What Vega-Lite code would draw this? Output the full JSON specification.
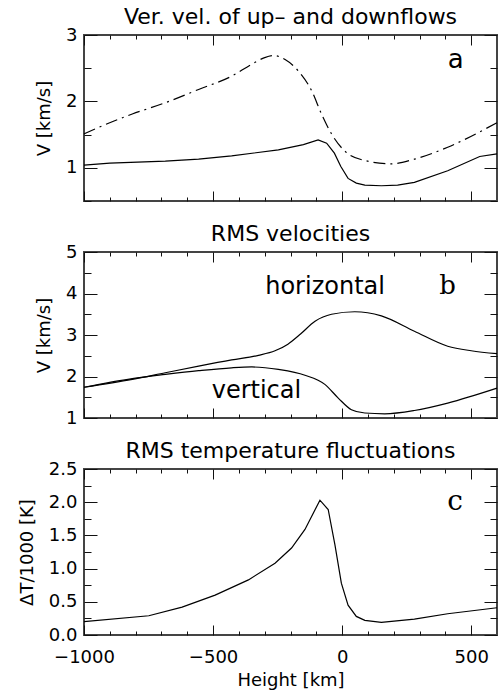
{
  "$schema": "https://vega.github.io/schema/vega-lite/v6.json",
  "padding": {"left": 17, "top": 5, "right": 0, "bottom": 0},
  "spacing": 51,
  "bounds": "flush",
  "config": {
    "font": "DejaVu Sans",
    "view": {"stroke": "#444", "strokeWidth": 2},
    "axis": {"labelFont": "DejaVu Sans", "labelFontSize": 18, "labelColor": "#000", "labelOverlap": false, "titleFont": "DejaVu Sans", "titleFontSize": 18, "titleFontWeight": "normal", "titleColor": "#000", "tickColor": "#111", "tickWidth": 1, "domain": false, "grid": false},
    "title": {"font": "DejaVu Sans", "fontSize": 22, "fontWeight": "normal", "color": "#000", "offset": -3}
  },
  "vconcat": [
    {
      "title": "Ver. vel. of up– and downflows",
      "width": 413, "height": 166,
      "data": {"values": [
        {"h": -1000, "v": 1.04, "s": "solid"}, {"h": -900, "v": 1.07, "s": "solid"}, {"h": -685, "v": 1.10, "s": "solid"}, {"h": -556, "v": 1.13, "s": "solid"}, {"h": -428, "v": 1.18, "s": "solid"}, {"h": -247, "v": 1.27, "s": "solid"}, {"h": -150, "v": 1.35, "s": "solid"}, {"h": -93, "v": 1.42, "s": "solid"}, {"h": -60, "v": 1.37, "s": "solid"}, {"h": -30, "v": 1.22, "s": "solid"}, {"h": -5, "v": 1.02, "s": "solid"}, {"h": 23, "v": 0.84, "s": "solid"}, {"h": 55, "v": 0.77, "s": "solid"}, {"h": 88, "v": 0.74, "s": "solid"}, {"h": 152, "v": 0.73, "s": "solid"}, {"h": 215, "v": 0.74, "s": "solid"}, {"h": 280, "v": 0.78, "s": "solid"}, {"h": 409, "v": 0.955, "s": "solid"}, {"h": 533, "v": 1.17, "s": "solid"}, {"h": 600, "v": 1.21, "s": "solid"},
        {"h": -1000, "v": 1.51, "s": "dashdot"}, {"h": -942, "v": 1.61, "s": "dashdot"}, {"h": -813, "v": 1.81, "s": "dashdot"}, {"h": -685, "v": 1.98, "s": "dashdot"}, {"h": -556, "v": 2.18, "s": "dashdot"}, {"h": -428, "v": 2.38, "s": "dashdot"}, {"h": -350, "v": 2.56, "s": "dashdot"}, {"h": -300, "v": 2.66, "s": "dashdot"}, {"h": -265, "v": 2.69, "s": "dashdot"}, {"h": -221, "v": 2.63, "s": "dashdot"}, {"h": -170, "v": 2.46, "s": "dashdot"}, {"h": -118, "v": 2.16, "s": "dashdot"}, {"h": -80, "v": 1.81, "s": "dashdot"}, {"h": -41, "v": 1.51, "s": "dashdot"}, {"h": 23, "v": 1.21, "s": "dashdot"}, {"h": 88, "v": 1.11, "s": "dashdot"}, {"h": 190, "v": 1.06, "s": "dashdot"}, {"h": 280, "v": 1.13, "s": "dashdot"}, {"h": 409, "v": 1.31, "s": "dashdot"}, {"h": 600, "v": 1.68, "s": "dashdot"}
      ]},
      "resolve": {"axis": {"x": "independent", "y": "independent"}},
      "layer": [
        {
          "transform": [{"filter": "datum.s === 'solid'"}],
          "mark": {"type": "line", "color": "#000", "strokeWidth": 1.2},
          "encoding": {
            "x": {"field": "h", "type": "quantitative", "scale": {"domain": [-1000, 600], "nice": false, "zero": false},
              "axis": {"orient": "bottom", "values": [-1000, -900, -800, -700, -600, -500, -400, -300, -200, -100, 0, 100, 200, 300, 400, 500], "tickSize": {"condition": {"test": "datum.value % 500 === 0", "value": -10}, "value": -4}, "labels": false, "title": null}},
            "y": {"field": "v", "type": "quantitative", "scale": {"domain": [0.5, 3], "nice": false, "zero": false},
              "axis": {"orient": "left", "values": [0.5, 1, 1.5, 2, 2.5, 3], "tickSize": {"condition": {"test": "datum.value % 1 === 0", "value": -13}, "value": -7}, "labelExpr": "datum.value % 1 === 0 ? format(datum.value, 'd') : ''", "labelPadding": 20, "title": "V [km/s]", "titlePadding": 12}}
          }
        },
        {
          "data": {"values": [{"h": 440, "v": 2.5, "label": "a"}]},
          "mark": {"type": "text", "font": "DejaVu Sans", "fontSize": 26, "align": "center", "baseline": "alphabetic", "color": "#000"},
          "encoding": {
            "x": {"field": "h", "type": "quantitative", "scale": {"domain": [-1000, 600], "nice": false, "zero": false},
              "axis": {"orient": "top", "values": [-1000, -900, -800, -700, -600, -500, -400, -300, -200, -100, 0, 100, 200, 300, 400, 500], "tickSize": {"condition": {"test": "datum.value % 500 === 0", "value": -10}, "value": -4}, "labels": false, "title": null}},
            "y": {"field": "v", "type": "quantitative", "scale": {"domain": [0.5, 3], "nice": false, "zero": false},
              "axis": {"orient": "right", "values": [0.5, 1, 1.5, 2, 2.5, 3], "tickSize": {"condition": {"test": "datum.value % 1 === 0", "value": -13}, "value": -7}, "labels": false, "title": null}},
            "text": {"field": "label"}
          }
        },
        {
          "transform": [{"filter": "datum.s === 'dashdot'"}],
          "mark": {"type": "line", "color": "#000", "strokeWidth": 1.2, "interpolate": "monotone", "strokeDash": [12, 5, 2, 5]},
          "encoding": {
            "x": {"field": "h", "type": "quantitative", "scale": {"domain": [-1000, 600], "nice": false, "zero": false}, "axis": null},
            "y": {"field": "v", "type": "quantitative", "scale": {"domain": [0.5, 3], "nice": false, "zero": false}, "axis": null}
          }
        }
      ]
    },
    {
      "title": "RMS velocities",
      "width": 413, "height": 166,
      "data": {"values": [
        {"h": -1000, "v": 1.74, "s": "horizontal"}, {"h": -813, "v": 1.93, "s": "horizontal"}, {"h": -685, "v": 2.09, "s": "horizontal"}, {"h": -556, "v": 2.25, "s": "horizontal"}, {"h": -428, "v": 2.40, "s": "horizontal"}, {"h": -324, "v": 2.51, "s": "horizontal"}, {"h": -260, "v": 2.62, "s": "horizontal"}, {"h": -210, "v": 2.78, "s": "horizontal"}, {"h": -160, "v": 3.03, "s": "horizontal"}, {"h": -105, "v": 3.33, "s": "horizontal"}, {"h": -41, "v": 3.50, "s": "horizontal"}, {"h": 49, "v": 3.56, "s": "horizontal"}, {"h": 152, "v": 3.46, "s": "horizontal"}, {"h": 280, "v": 3.09, "s": "horizontal"}, {"h": 409, "v": 2.73, "s": "horizontal"}, {"h": 500, "v": 2.62, "s": "horizontal"}, {"h": 600, "v": 2.55, "s": "horizontal"},
        {"h": -1000, "v": 1.74, "s": "vertical"}, {"h": -813, "v": 1.95, "s": "vertical"}, {"h": -685, "v": 2.05, "s": "vertical"}, {"h": -556, "v": 2.14, "s": "vertical"}, {"h": -428, "v": 2.21, "s": "vertical"}, {"h": -350, "v": 2.23, "s": "vertical"}, {"h": -247, "v": 2.17, "s": "vertical"}, {"h": -144, "v": 2.03, "s": "vertical"}, {"h": -67, "v": 1.81, "s": "vertical"}, {"h": -15, "v": 1.48, "s": "vertical"}, {"h": 36, "v": 1.20, "s": "vertical"}, {"h": 88, "v": 1.12, "s": "vertical"}, {"h": 165, "v": 1.10, "s": "vertical"}, {"h": 280, "v": 1.18, "s": "vertical"}, {"h": 409, "v": 1.36, "s": "vertical"}, {"h": 600, "v": 1.72, "s": "vertical"}
      ]},
      "resolve": {"axis": {"x": "independent", "y": "independent"}},
      "layer": [
        {
          "mark": {"type": "line", "color": "#000", "strokeWidth": 1.2, "interpolate": "monotone"},
          "encoding": {
            "x": {"field": "h", "type": "quantitative", "scale": {"domain": [-1000, 600], "nice": false, "zero": false},
              "axis": {"orient": "bottom", "values": [-1000, -900, -800, -700, -600, -500, -400, -300, -200, -100, 0, 100, 200, 300, 400, 500], "tickSize": {"condition": {"test": "datum.value % 500 === 0", "value": -10}, "value": -4}, "labels": false, "title": null}},
            "y": {"field": "v", "type": "quantitative", "scale": {"domain": [1, 5], "nice": false, "zero": false},
              "axis": {"orient": "left", "values": [1, 1.5, 2, 2.5, 3, 3.5, 4, 4.5, 5], "tickSize": {"condition": {"test": "datum.value % 1 === 0", "value": -13}, "value": -7}, "labelExpr": "datum.value % 1 === 0 ? format(datum.value, 'd') : ''", "labelPadding": 20, "title": "V [km/s]", "titlePadding": 12}},
            "detail": {"field": "s", "type": "nominal"}
          }
        },
        {
          "data": {"values": [{"h": -66, "v": 3.99, "label": "horizontal"}, {"h": -332, "v": 1.48, "label": "vertical"}]},
          "mark": {"type": "text", "font": "DejaVu Sans", "fontSize": 24, "align": "center", "baseline": "alphabetic", "color": "#000"},
          "encoding": {
            "x": {"field": "h", "type": "quantitative", "scale": {"domain": [-1000, 600], "nice": false, "zero": false},
              "axis": {"orient": "top", "values": [-1000, -900, -800, -700, -600, -500, -400, -300, -200, -100, 0, 100, 200, 300, 400, 500], "tickSize": {"condition": {"test": "datum.value % 500 === 0", "value": -10}, "value": -4}, "labels": false, "title": null}},
            "y": {"field": "v", "type": "quantitative", "scale": {"domain": [1, 5], "nice": false, "zero": false},
              "axis": {"orient": "right", "values": [1, 1.5, 2, 2.5, 3, 3.5, 4, 4.5, 5], "tickSize": {"condition": {"test": "datum.value % 1 === 0", "value": -13}, "value": -7}, "labels": false, "title": null}},
            "text": {"field": "label"}
          }
        },
        {
          "data": {"values": [{"h": 409, "v": 3.99, "label": "b"}]},
          "mark": {"type": "text", "font": "DejaVu Serif", "fontSize": 26, "align": "center", "baseline": "alphabetic", "color": "#000"},
          "encoding": {
            "x": {"field": "h", "type": "quantitative", "scale": {"domain": [-1000, 600], "nice": false, "zero": false}, "axis": null},
            "y": {"field": "v", "type": "quantitative", "scale": {"domain": [1, 5], "nice": false, "zero": false}, "axis": null},
            "text": {"field": "label"}
          }
        }
      ]
    },
    {
      "title": "RMS temperature fluctuations",
      "width": 413, "height": 166,
      "data": {"values": [
        {"h": -1000, "v": 0.20}, {"h": -749, "v": 0.29}, {"h": -620, "v": 0.42}, {"h": -492, "v": 0.60}, {"h": -363, "v": 0.83}, {"h": -260, "v": 1.08}, {"h": -196, "v": 1.31}, {"h": -144, "v": 1.59}, {"h": -86, "v": 2.03}, {"h": -54, "v": 1.89}, {"h": -28, "v": 1.36}, {"h": -3, "v": 0.78}, {"h": 23, "v": 0.45}, {"h": 55, "v": 0.28}, {"h": 88, "v": 0.22}, {"h": 152, "v": 0.19}, {"h": 280, "v": 0.24}, {"h": 409, "v": 0.32}, {"h": 600, "v": 0.41}
      ]},
      "resolve": {"axis": {"x": "independent", "y": "independent"}},
      "layer": [
        {
          "mark": {"type": "line", "color": "#000", "strokeWidth": 1.2},
          "encoding": {
            "x": {"field": "h", "type": "quantitative", "scale": {"domain": [-1000, 600], "nice": false, "zero": false},
              "axis": {"orient": "bottom", "values": [-1000, -900, -800, -700, -600, -500, -400, -300, -200, -100, 0, 100, 200, 300, 400, 500], "tickSize": {"condition": {"test": "datum.value % 500 === 0", "value": -10}, "value": -4}, "labelExpr": "datum.value % 500 === 0 ? format(datum.value, 'd') : ''", "labelPadding": 23, "labelFlush": false, "title": "Height [km]", "titlePadding": -1}},
            "y": {"field": "v", "type": "quantitative", "scale": {"domain": [0, 2.5], "nice": false, "zero": false},
              "axis": {"orient": "left", "values": [0, 0.25, 0.5, 0.75, 1, 1.25, 1.5, 1.75, 2, 2.25, 2.5], "tickSize": {"condition": {"test": "abs(datum.value * 2 - round(datum.value * 2)) < 0.000001", "value": -13}, "value": -7}, "labelExpr": "abs(datum.value * 2 - round(datum.value * 2)) < 0.000001 ? format(datum.value, '.1f') : ''", "labelPadding": 20, "title": "ΔT/1000 [K]", "titlePadding": 12}}
          }
        },
        {
          "data": {"values": [{"h": 438, "v": 1.89, "label": "c"}]},
          "mark": {"type": "text", "font": "DejaVu Serif", "fontSize": 28, "align": "center", "baseline": "alphabetic", "color": "#000"},
          "encoding": {
            "x": {"field": "h", "type": "quantitative", "scale": {"domain": [-1000, 600], "nice": false, "zero": false},
              "axis": {"orient": "top", "values": [-1000, -900, -800, -700, -600, -500, -400, -300, -200, -100, 0, 100, 200, 300, 400, 500], "tickSize": {"condition": {"test": "datum.value % 500 === 0", "value": -10}, "value": -4}, "labels": false, "title": null}},
            "y": {"field": "v", "type": "quantitative", "scale": {"domain": [0, 2.5], "nice": false, "zero": false},
              "axis": {"orient": "right", "values": [0, 0.25, 0.5, 0.75, 1, 1.25, 1.5, 1.75, 2, 2.25, 2.5], "tickSize": {"condition": {"test": "abs(datum.value * 2 - round(datum.value * 2)) < 0.000001", "value": -13}, "value": -7}, "labels": false, "title": null}},
            "text": {"field": "label"}
          }
        }
      ]
    }
  ]
}
